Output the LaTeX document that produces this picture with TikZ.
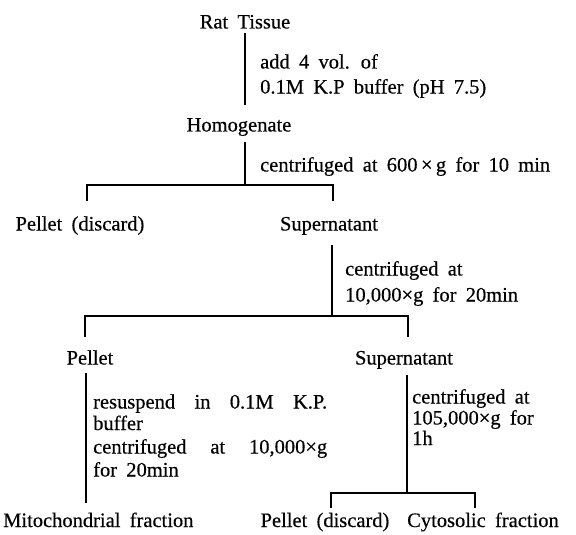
\documentclass[tikz,border=0pt]{standalone}
\usepackage{fontspec}
\setmainfont[WordSpace=1.8,FakeBold=0.4]{Liberation Serif}
\begin{document}
\begin{tikzpicture}[x=1pt,y=-1pt,
  txt/.style={inner sep=0pt,anchor=base,font=\fontsize{20.5}{24}\selectfont},
  txtw/.style={txt,anchor=base west},
  conn/.style={line width=1.1pt},
  stemthick/.style={line width=1.8pt}]
\useasboundingbox (0,0) rectangle (576,535);
% main nodes
\node[txt] (rat) at (245,28.5) {Rat Tissue};
\node[txtw] (s1a) at (260,68.5) {add 4 vol. of};
\node[txtw] (s1b) at (260,93.5) {0.1M K.P buffer (pH 7.5)};
\node[txt] (homog) at (239,131.5) {Homogenate};
\node[txtw] (s2) at (260,171.5) {centrifuged at 600\,×\,g for 10 min};
\node[txt] (pel1) at (80,230.5) {Pellet (discard)};
\node[txt] (sup1) at (329,230.5) {Supernatant};
\node[txtw] (s3a) at (345,275.5) {centrifuged at};
\node[txtw] (s3b) at (345,301.5) {10,000×g for 20min};
\node[txt] (pel2) at (90,364.5) {Pellet};
\node[txt] (sup2) at (404,364.5) {Supernatant};
\node[txtw] (s4a) at (93,408.5) {\makebox[234pt][s]{resuspend in 0.1M K.P.}};
\node[txtw] (s4b) at (93,430) {buffer};
\node[txtw] (s4c) at (93,453.5) {\makebox[234pt][s]{centrifuged at 10,000×g}};
\node[txtw] (s4d) at (93,476.5) {for 20min};
\node[txtw] (s5a) at (412,403.5) {centrifuged at};
\node[txtw] (s5b) at (412,424.5) {105,000×g for};
\node[txtw] (s5c) at (412,445) {1h};
\node[txtw] (mito) at (3,527) {Mitochondrial fraction};
\node[txt] (pel3) at (325,527) {Pellet (discard)};
\node[txtw] (cyto) at (407,527) {Cytosolic fraction};
% connector points
\coordinate (a1) at (245,33);   \coordinate (a2) at (245,105);
\coordinate (b1) at (245,142);  \coordinate (b2) at (245,185);
\coordinate (bl) at (87,201);   \coordinate (br) at (333,201);
\coordinate (c1) at (332,245);  \coordinate (c2) at (332,316);
\coordinate (cl) at (85,337);   \coordinate (cr) at (408,337);
\coordinate (d1) at (86,373);   \coordinate (d2) at (86,503);
\coordinate (e1) at (407,375);  \coordinate (e2) at (407,493);
\coordinate (el) at (331,508);  \coordinate (er) at (475,508);
% connectors
\draw[stemthick] (a1) -- (a2);
\draw[conn] (b1) -- (b2);
\draw[conn] (bl) |- (b2) -| (br);
\draw[conn] (c1) -- (c2);
\draw[conn] (cl) |- (c2) -| (cr);
\draw[conn] (d1) -- (d2);
\draw[conn] (e1) -- (e2);
\draw[conn] (el) |- (e2) -| (er);
\end{tikzpicture}
\end{document}
